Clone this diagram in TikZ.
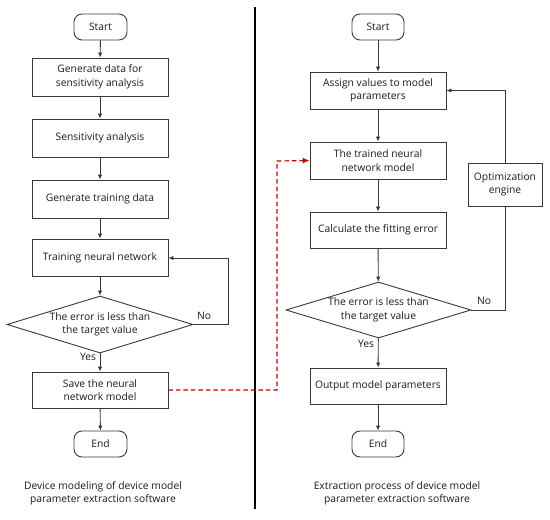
\documentclass[tikz,border=0pt]{standalone}
\usepackage{fontspec}
\setmainfont{Open Sans}
\usetikzlibrary{shapes.geometric,arrows.meta}
\definecolor{linec}{HTML}{383838}
\definecolor{textc}{HTML}{1A1A1A}
\definecolor{dred}{HTML}{C00000}
\tikzset{
  box/.style={draw=linec, line width=0.9pt, rectangle, minimum width=136pt, minimum height=37pt, align=center, inner sep=1pt, text=textc, font=\fontsize{10.3}{13.5}\selectfont},
  term/.style={draw=linec, line width=0.9pt, rectangle, rounded corners=8pt, minimum width=53pt, minimum height=26pt, text=textc, font=\fontsize{10.3}{13.5}\selectfont},
  dec/.style={draw=linec, line width=0.9pt, diamond, inner sep=0pt},
  lbl/.style={text=textc, font=\fontsize{10.3}{13.5}\selectfont, align=center},
  flow/.style={draw=linec, line width=0.9pt, -{Latex[length=5pt,width=4.5pt]}},
  redflow/.style={draw=dred, line width=1.2pt, dash pattern=on 4.5pt off 3pt, -{Latex[length=7pt,width=6pt]}},
}
\begin{document}
\begin{tikzpicture}[x=1pt,y=-1pt]
\useasboundingbox (0,0) rectangle (550,520);
% divider
\draw[line width=1.4pt] (255,7) coordinate (dtop) -- (255,509) coordinate (dbot);
% left column
\node[term] (ls) at (100.5,27) {Start};
\node[box, minimum height=38pt] (l1) at (100,77) {Generate data for\\sensitivity analysis};
\node[box, minimum height=38pt] (l2) at (100,138) {Sensitivity analysis};
\node[box, minimum height=38pt] (l3) at (100,199) {Generate training data};
\node[box] (l4) at (100,257.5) {Training neural network};
\node[dec, minimum width=186pt, minimum height=57pt] (ld) at (100,324.5) {};
\node[lbl] at (ld) {The error is less than\\the target value};
\node[box, minimum height=36pt] (l5) at (100,390) {Save the neural\\network model};
\node[term] (le) at (100.5,444) {End};
\node[lbl] (lno) at (204,316) {No};
\node[lbl] (lyes) at (88,357) {Yes};
\node[lbl] (lcap) at (103,493.5) {Device modeling of device model\\parameter extraction software};
\draw[flow] (ls) -- (l1);
\draw[flow] (l1) -- (l2);
\draw[flow] (l2) -- (l3);
\draw[flow] (l3) -- (l4);
\draw[flow] (l4) -- (ld);
\draw[flow] (ld) -- (l5);
\draw[flow] (l5) -- (le);
\draw[flow] (ld.east) -- (228,324.5) -- (228,258) -- (l4.east |- 0,258);
% right column
\node[term, minimum width=52pt] (rs) at (378,27) {Start};
\node[box] (r1) at (378,90.5) {Assign values to model\\parameters};
\node[box] (r2) at (378,160.5) {The trained neural\\network model};
\node[box, minimum height=36pt] (r3) at (378,230) {Calculate the fitting error};
\node[dec, minimum width=185pt, minimum height=56pt] (rd) at (378.5,310) {};
\node[lbl] at (rd) {The error is less than\\the target value};
\node[box, minimum height=36pt] (r4) at (378,386) {Output model parameters};
\node[term, minimum width=52pt] (re) at (378,444) {End};
\node[box, minimum width=74pt, minimum height=43pt] (opt) at (505,184.5) {Optimization\\engine};
\node[lbl] (rno) at (484,301) {No};
\node[lbl] (ryes) at (366,344) {Yes};
\node[lbl] (rcap) at (397,493.5) {Extraction process of device model\\parameter extraction software};
\draw[flow] (rs) -- (r1);
\draw[flow] (r1) -- (r2);
\draw[flow] (r2) -- (r3);
\draw[flow] (r3) -- (rd);
\draw[flow] (rd) -- (r4);
\draw[flow] (r4) -- (re);
\draw[draw=linec, line width=0.9pt] (rd.east) -| (opt.south);
\draw[flow] (opt.north) |- (r1.east);
% red dashed link
\draw[redflow] (l5.east) -- (277,390) -- (277,161) -- (r2.west);
\end{tikzpicture}
\end{document}
